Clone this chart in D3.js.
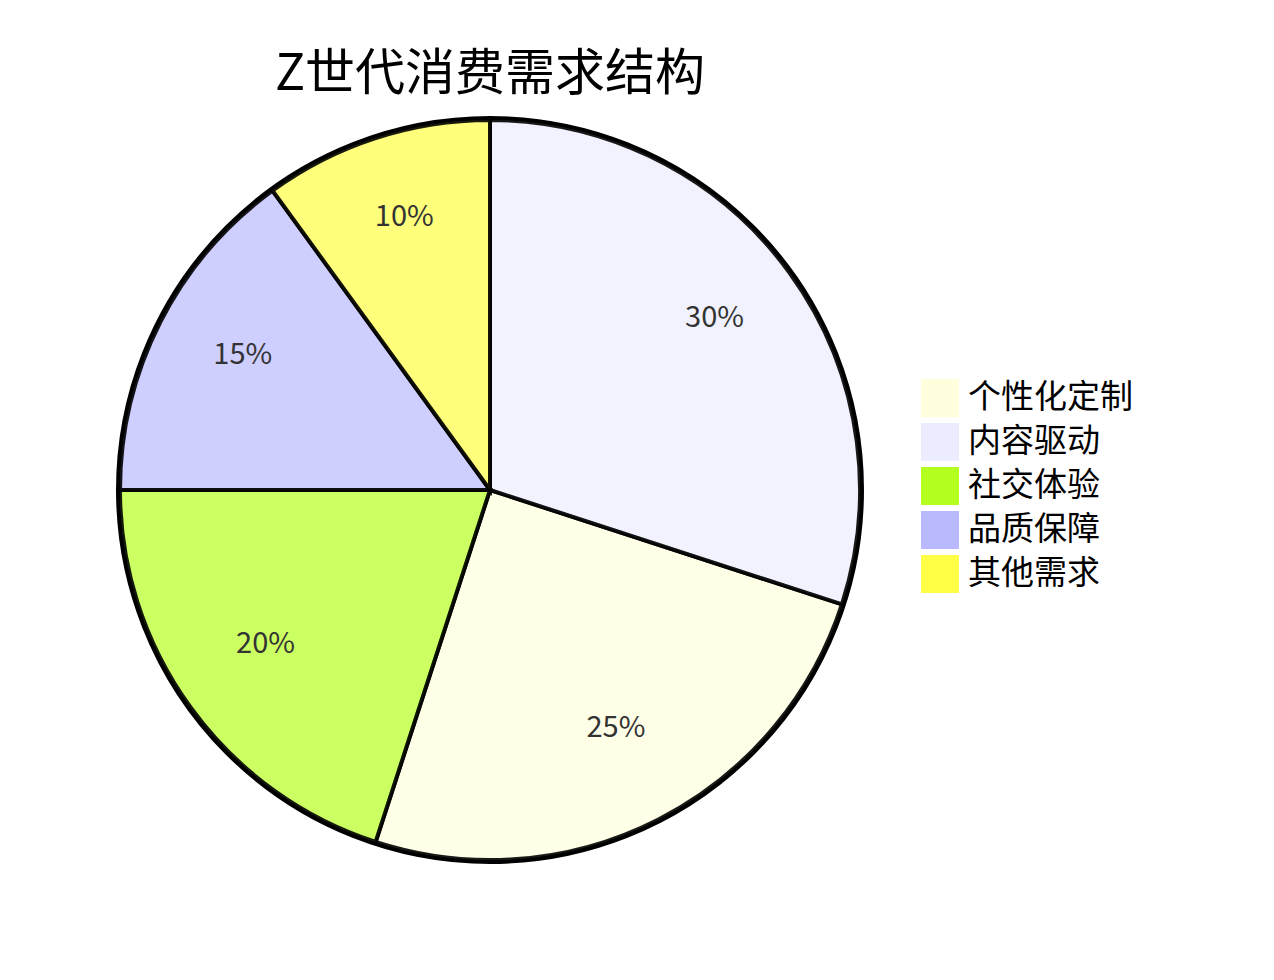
<!DOCTYPE html>
<html>
<head>
<meta charset="utf-8">
<script src="https://cdn.jsdelivr.net/npm/d3@7"></script>
<style>
  html, body { margin: 0; padding: 0; background: #ffffff; }
  svg { display: block; }
  text { font-family: "Noto Sans CJK SC", "Noto Sans", sans-serif; }
</style>
</head>
<body>
<svg id="chart" width="1274" height="980"></svg>
<script>
const title = "Z世代消费需求结构";
const categories = ["个性化定制", "内容驱动", "社交体验", "品质保障", "其他需求"];
const values = [25, 30, 20, 15, 10];
const palette = ["#ECECFF", "#ffffde", "#b5ff20", "#b9b9ff", "#ffff45", "#b5ff20"];

const W = 1274, H = 980;
const cx = 490, cy = 490;
const radius = 370;

const data = categories.map((c, i) => ({ label: c, value: values[i] }));
const total = d3.sum(values);

const svg = d3.select("#chart");
const g = svg.append("g").attr("transform", `translate(${cx},${cy})`);

const pie = d3.pie().value(d => d.value).sort((a, b) => b.value - a.value);
const arcs = pie(data);

// colour scale: domain filled in drawing (sorted) order
const sortedLabels = arcs.slice().sort((a, b) => a.startAngle - b.startAngle).map(a => a.data.label);
const color = d3.scaleOrdinal().domain(sortedLabels).range(palette);

const arc = d3.arc().innerRadius(0).outerRadius(radius);
const labelArc = d3.arc().innerRadius(radius * 0.75).outerRadius(radius * 0.75);

// outer circle
g.append("circle")
  .attr("r", radius + 2)
  .attr("fill", "none")
  .attr("stroke", "#000")
  .attr("stroke-width", 4);

g.selectAll("path.slice")
  .data(arcs)
  .enter()
  .append("path")
  .attr("class", "slice")
  .attr("d", arc)
  .attr("fill", d => color(d.data.label))
  .attr("fill-opacity", 0.7)
  .attr("stroke", "#000")
  .attr("stroke-width", 4)
  .attr("stroke-opacity", 0.9);

g.selectAll("text.pct")
  .data(arcs)
  .enter()
  .append("text")
  .attr("class", "pct")
  .attr("transform", d => `translate(${labelArc.centroid(d)})`)
  .attr("text-anchor", "middle")
  .attr("fill", "#333")
  .style("font-size", "29px")
  .text(d => Math.round(d.data.value / total * 100) + "%");

// title
svg.append("text")
  .attr("x", cx)
  .attr("y", 90)
  .attr("text-anchor", "middle")
  .attr("fill", "#000")
  .style("font-size", "50px")
  .text(title);

// legend
const legend = g.selectAll("g.legend")
  .data(categories)
  .enter()
  .append("g")
  .attr("class", "legend")
  .attr("transform", (d, i) => {
    const h = 44;
    const offset = h * categories.length / 2;
    return `translate(${432},${i * h - offset})`;
  });

legend.append("rect")
  .attr("x", 0)
  .attr("y", 0)
  .attr("width", 36)
  .attr("height", 36)
  .attr("fill", d => color(d))
  .attr("stroke", d => color(d))
  .attr("stroke-width", 2);

legend.append("text")
  .attr("x", 46)
  .attr("y", 28)
  .attr("fill", "#000")
  .style("font-size", "33px")
  .text(d => d);
</script>
</body>
</html>
